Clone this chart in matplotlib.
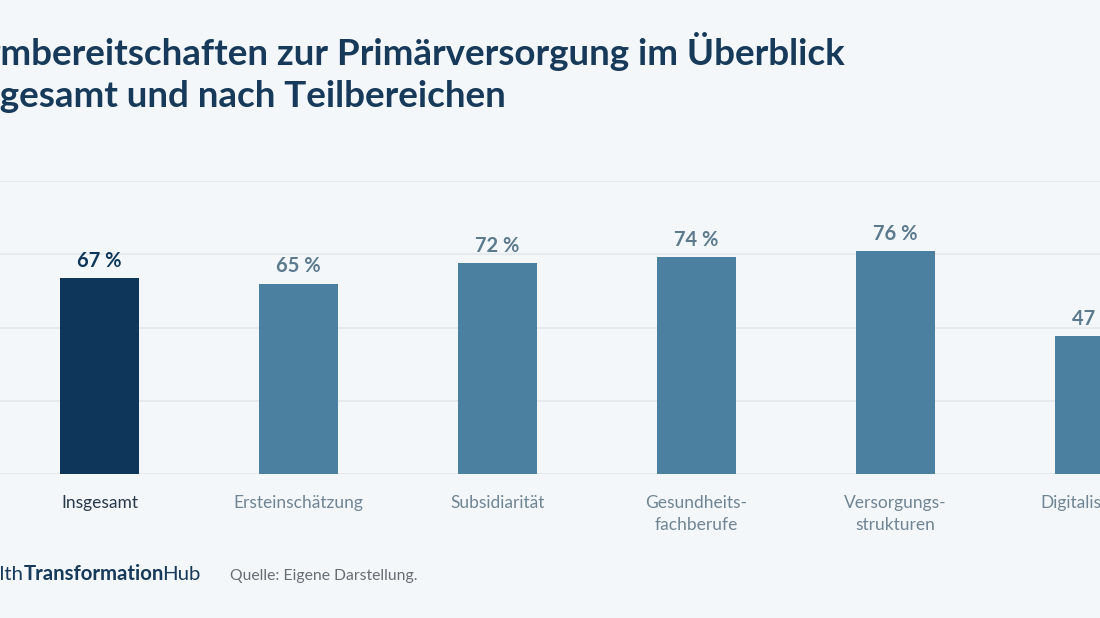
import matplotlib
matplotlib.use("Agg")
import matplotlib.pyplot as plt

# Data
categories = ["Insgesamt", "Ersteinschätzung", "Subsidiarität",
              "Gesundheits-\nfachberufe", "Versorgungs-\nstrukturen", "Digitalisierung"]
values = [67, 65, 72, 74, 76, 47]
value_labels = ["67 %", "65 %", "72 %", "74 %", "76 %", "47 %"]
y_ticks = [0, 25, 50, 75, 100]

title_1 = "Reformbereitschaften zur Primärversorgung im Überblick"
title_2 = "Insgesamt und nach Teilbereichen"
source = "Quelle: Eigene Darstellung."

plt.rcParams["font.family"] = ["Lato", "DejaVu Sans"]

bg = "#f4f7fa"
navy = "#0e365a"
steel = "#4c80a0"
label_grey = "#5b7a8e"
cat_grey = "#6f8593"

W, H = 1100, 618
fig = plt.figure(figsize=(W / 100, H / 100), dpi=100, facecolor=bg)
ax = fig.add_axes([0, (H - 474) / H, 1, (474 - 181) / H])
ax.set_facecolor(bg)

x = list(range(len(categories)))
colors = [navy] + [steel] * (len(categories) - 1)
ax.bar(x, values, width=0.397, color=colors, zorder=3)

for i, (v, lab) in enumerate(zip(values, value_labels)):
    ax.annotate(lab, (i, v), xytext=(0, 8), textcoords="offset points",
                ha="center", va="baseline", fontsize=14.5, fontweight="bold",
                color=navy if i == 0 else label_grey)

ax.set_ylim(0, 100)
ax.set_xlim(-0.5, (W - 99.5) / 199)
ax.set_yticks(y_ticks)
ax.yaxis.grid(True, color="#e3e8ec", linewidth=1.2, zorder=0)
ax.tick_params(axis="y", left=False, labelleft=False)
ax.set_xticks(x)
ax.set_xticklabels(categories, fontsize=12.5)
ax.tick_params(axis="x", length=0, pad=15)
for i, t in enumerate(ax.get_xticklabels()):
    t.set_color("#26384a" if i == 0 else cat_grey)
    t.set_linespacing(1.45)
for s in ax.spines.values():
    s.set_visible(False)

renderer = fig.canvas.get_renderer()


def width_px(s, **kw):
    t = fig.text(0, 0, s, **kw)
    w = t.get_window_extent(renderer).width
    t.remove()
    return w


# Titles (left part cropped as in reference)
tkw = dict(fontsize=26.5, fontweight="bold", color="#173a5a")
off1 = width_px("Refor", **tkw)
fig.text(-off1 / W, 1 - 65 / H, title_1, va="baseline", **tkw)
off2 = width_px("Ins", **tkw)
fig.text(-off2 / W, 1 - 107 / H, title_2, va="baseline", **tkw)

# Footer logo with mixed weights
lkw = dict(fontsize=14.7, color="#173a5a")
x0 = -width_px("Hea", **lkw)
base = 1 - 580 / H
fig.text(x0 / W, base, "Health", va="baseline", **lkw)
x0 += width_px("Health", **lkw)
fig.text(x0 / W, base, "Transformation", va="baseline", fontweight="bold", **lkw)
x0 += width_px("Transformation", fontweight="bold", **lkw) - 2
fig.text(x0 / W, base, "Hub", va="baseline", **lkw)

fig.text(230 / W, base, source, va="baseline", fontsize=11.3, color="#666d73")

fig.savefig("out.png", dpi=100, facecolor=bg)
